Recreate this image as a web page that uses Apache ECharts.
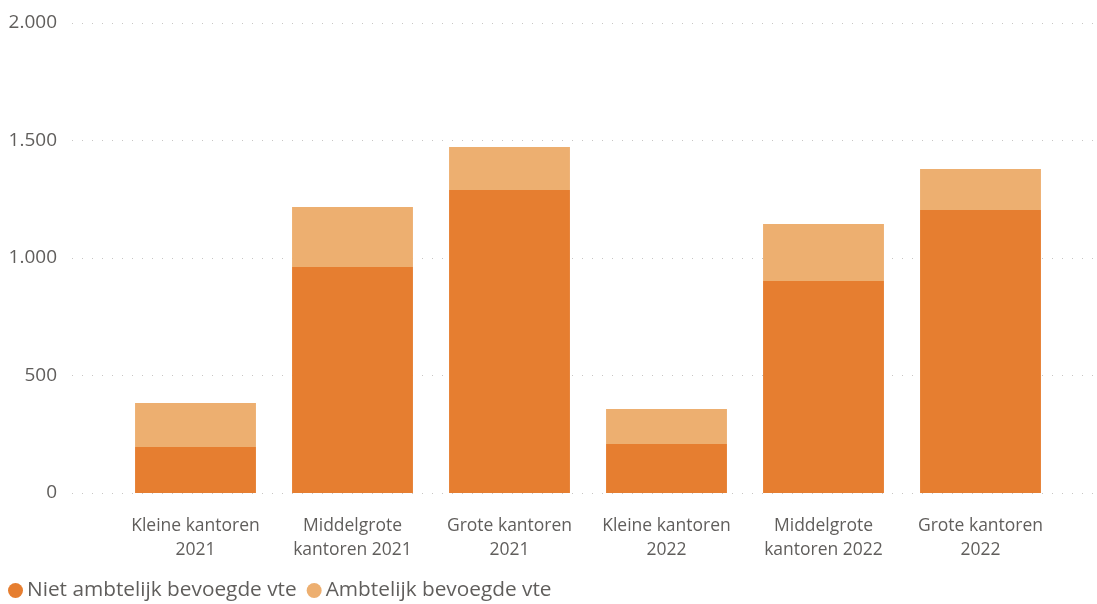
<!DOCTYPE html>
<html>
<head>
<meta charset="utf-8">
<script src="https://cdn.jsdelivr.net/npm/echarts@6/dist/echarts.min.js"></script>
<style>
html,body{margin:0;padding:0;background:#fff;}
#chart{width:1097px;height:604px;}
</style>
</head>
<body>
<div id="chart"></div>
<script>
const categories = [
  'Kleine kantoren\n2021',
  'Middelgrote\nkantoren 2021',
  'Grote kantoren\n2021',
  'Kleine kantoren\n2022',
  'Middelgrote\nkantoren 2022',
  'Grote kantoren\n2022'
];
const seriesNames = ['Niet ambtelijk bevoegde vte', 'Ambtelijk bevoegde vte'];
const nietAmbtelijk = [196, 962, 1289, 209, 902, 1204];
const ambtelijk = [187, 255, 183, 148, 243, 175];
const yTicks = [0, 500, 1000, 1500, 2000];

const fontFamily = '"Open Sans", "Noto Sans", sans-serif';
const labelColor = '#605E5C';
const colors = ['#E67E30', '#EDAF70'];

const chart = echarts.init(document.getElementById('chart'), null, {renderer: 'canvas'});
const fmt = v => v >= 1000 ? String(v).replace(/(\d)(\d{3})$/, '$1.$2') : String(v);

chart.setOption({
  animation: false,
  color: colors,
  legend: {
    left: 3,
    bottom: -2,
    itemGap: 10,
    itemWidth: 15,
    itemHeight: 15,
    icon: 'circle',
    textStyle: {color: labelColor, fontSize: 20.8, fontFamily, padding: [0, 0, 0, -1]},
    data: seriesNames
  },
  grid: [
    {left: 72, right: 0, top: 23, bottom: 111, containLabel: false},
    {left: 117, right: 38, top: 23, bottom: 111, containLabel: false}
  ],
  xAxis: [
    {gridIndex: 0, type: 'category', data: ['x'], show: false},
    {
      gridIndex: 1, type: 'category', data: categories,
      axisLine: {show: false}, axisTick: {show: false},
      axisLabel: {color: labelColor, fontSize: 17.5, fontFamily, lineHeight: 24, margin: 21, interval: 0}
    }
  ],
  yAxis: [
    {
      gridIndex: 0, type: 'value', min: yTicks[0], max: yTicks[yTicks.length - 1], interval: 500,
      axisLine: {show: false}, axisTick: {show: false},
      axisLabel: {color: labelColor, fontSize: 19, fontFamily, margin: 15, formatter: fmt},
      splitLine: {show: true, lineStyle: {color: '#C8C6C4', type: [1, 9], width: 1}}
    },
    {
      gridIndex: 1, type: 'value', min: yTicks[0], max: yTicks[yTicks.length - 1], interval: 500,
      show: false, splitLine: {show: false}
    }
  ],
  series: [
    {
      name: seriesNames[0], type: 'bar', stack: 'tot', xAxisIndex: 1, yAxisIndex: 1,
      data: nietAmbtelijk, barCategoryGap: '23%',
      itemStyle: {color: colors[0]}
    },
    {
      name: seriesNames[1], type: 'bar', stack: 'tot', xAxisIndex: 1, yAxisIndex: 1,
      data: ambtelijk, barCategoryGap: '23%',
      itemStyle: {color: colors[1]}
    }
  ]
});
</script>
</body>
</html>
